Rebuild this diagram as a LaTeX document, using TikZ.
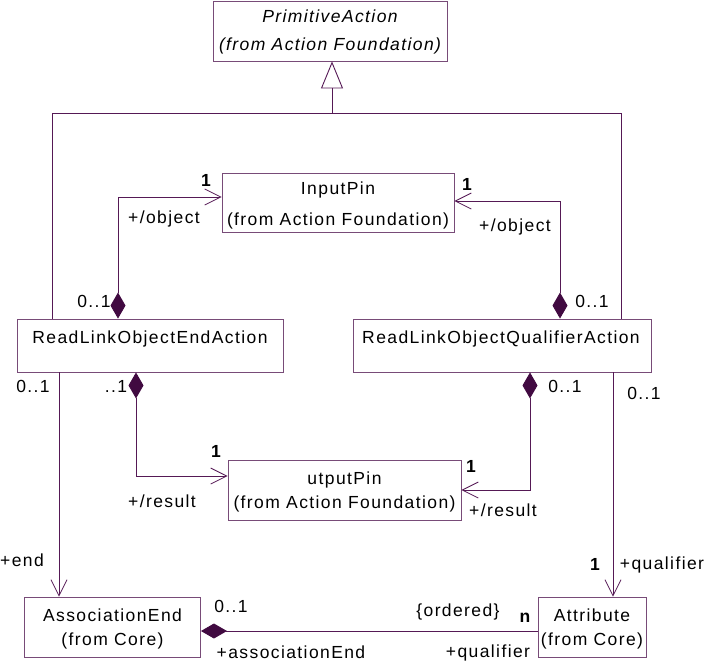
\documentclass[tikz,border=0pt]{standalone}
\usepackage{fontspec}
\setmainfont{Liberation Sans}[LetterSpace=8]
\usetikzlibrary{arrows.meta}

\definecolor{umlline}{RGB}{85,25,85}
\definecolor{umlbox}{RGB}{120,75,120}
\definecolor{umldiam}{RGB}{65,10,65}

\newcommand{\umlsize}{\fontsize{17.5}{21}\selectfont}

\tikzset{
  classbox/.style={draw=umlbox, line width=0.9pt, inner sep=0pt, fill=white},
  txt/.style={font=\umlsize, text=black, inner sep=0pt,
    text height=12.5pt, text depth=0pt},
  ittxt/.style={txt, font=\umlsize\itshape},
  mult/.style={txt},
  bmult/.style={txt, font=\umlsize\bfseries},
  conn/.style={draw=umlline, line width=0.9pt},
  navtip/.tip={Straight Barb[length=16pt,width=16pt,line width=0.8pt]},
  comptip/.tip={Diamond[length=26pt,width=15pt,fill=umldiam,color=umldiam]},
  gentip/.tip={Triangle[open,length=27pt,width=22pt,line width=0.9pt]},
}

\begin{document}
\begin{tikzpicture}[x=1pt,y=-1pt]
\useasboundingbox (0,0) rectangle (704,662);

% class boxes
\node[classbox, minimum width=234pt, minimum height=60pt] (prim) at (330,31) {};
\node[classbox, minimum width=232pt, minimum height=59pt] (ipin) at (338,202.5) {};
\node[classbox, minimum width=266pt, minimum height=53pt] (rloea) at (150,345.5) {};
\node[classbox, minimum width=298pt, minimum height=53pt] (rlqa) at (502,345.5) {};
\node[classbox, minimum width=233pt, minimum height=60pt] (opin) at (344.5,490) {};
\node[classbox, minimum width=176pt, minimum height=60pt] (assoc) at (112.5,627) {};
\node[classbox, minimum width=108pt, minimum height=60pt] (attr) at (592,627) {};

% class names
\node[ittxt] (primA) at (330,16) {PrimitiveAction};
\node[ittxt] (primB) at (330,44) {(from Action Foundation)};
\node[txt] (ipinA) at (338,188) {InputPin};
\node[txt] (ipinB) at (338,219) {(from Action Foundation)};
\node[txt] (rloeaA) at (150,337) {ReadLinkObjectEndAction};
\node[txt] (rlqaA) at (501,337) {ReadLinkObjectQualifierAction};
\node[txt] (opinA) at (344.5,478) {utputPin};
\node[txt] (opinB) at (344.5,502) {(from Action Foundation)};
\node[txt] (assocA) at (112.5,615) {AssociationEnd};
\node[txt] (assocB) at (112.5,639) {(from Core)};
\node[txt] (attrA) at (592,615) {Attribute};
\node[txt] (attrB) at (592,639) {(from Core)};

% routing points
\coordinate (gj) at (332,113);
\coordinate (gl) at (52,113);
\coordinate (gr) at (621,113);
\coordinate (c1) at (118,197);
\coordinate (c2) at (560,201);
\coordinate (c3) at (136,476);
\coordinate (c4) at (530,490);
\coordinate (c5) at (59,0);
\coordinate (c6) at (613,0);
\coordinate (c7) at (0,631);

% generalization
\draw[conn, -gentip] (gj) -- (prim.south -| gj);
\draw[conn] (rloea.north -| gl) |- (gr) -- (rlqa.north -| gr);

% compositions to the pins
\draw[conn, comptip-navtip] (rloea.north -| c1) |- (ipin.west |- c1);
\draw[conn, comptip-navtip] (rlqa.north -| c2) |- (ipin.east |- c2);
\draw[conn, comptip-navtip] (rloea.south -| c3) |- (opin.west |- c3);
\draw[conn, comptip-navtip] (rlqa.south -| c4) |- (opin.east |- c4);

% navigable associations
\draw[conn, -navtip] (rloea.south -| c5) -- (assoc.north -| c5);
\draw[conn, -navtip] (rlqa.south -| c6) -- (attr.north -| c6);
\draw[conn, comptip-] (assoc.east |- c7) -- (attr.west |- c7);

% role names and multiplicities
\node[bmult] (m1) at (206,180) {1};
\node[txt] (r1) at (164,217) {+/object};
\node[mult] (m2) at (94,301) {0..1};
\node[bmult] (m3) at (467,184) {1};
\node[txt] (r2) at (515,225) {+/object};
\node[mult] (m4) at (592,301) {0..1};
\node[mult] (m5) at (33,386) {0..1};
\node[mult] (m6) at (116,386) {..1};
\node[bmult] (m7) at (216,451) {1};
\node[txt] (r3) at (162,501) {+/result};
\node[mult] (m8) at (565,386) {0..1};
\node[mult] (m9) at (644,393) {0..1};
\node[bmult] (m10) at (471,466) {1};
\node[txt] (r4) at (503,510) {+/result};
\node[txt] (r5) at (22,560) {+end};
\node[bmult] (m11) at (595,564) {1};
\node[txt] (r6) at (662,563) {+qualifier};
\node[mult] (m12) at (231,606) {0..1};
\node[txt] (r7) at (291,652) {+associationEnd};
\node[txt] (c8) at (458,610) {\{ordered\}};
\node[bmult] (m13) at (525,616) {n};
\node[txt] (r8) at (488,651) {+qualifier};
\end{tikzpicture}
\end{document}
